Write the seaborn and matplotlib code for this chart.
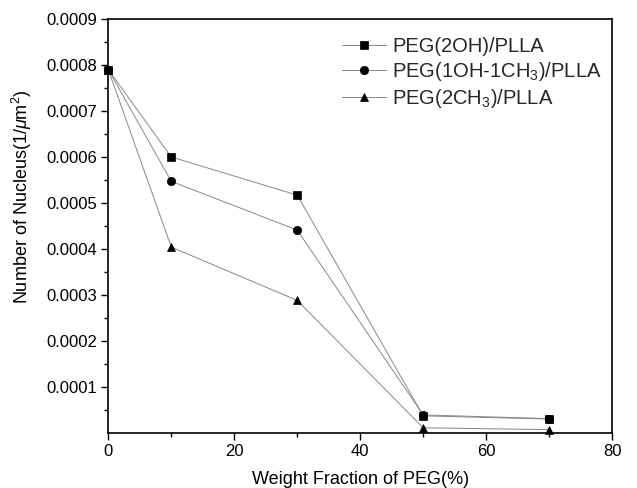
import matplotlib
matplotlib.use("Agg")
import matplotlib.pyplot as plt
import seaborn as sns
import pandas as pd
from matplotlib.ticker import MultipleLocator, FixedLocator, FuncFormatter

weight_fraction = [0, 10, 30, 50, 70]
peg_2oh = [0.00079, 0.000600, 0.000517, 0.000037, 0.000030]
peg_1oh_1ch3 = [0.00079, 0.000547, 0.000441, 0.000039, 0.000031]
peg_2ch3 = [0.00079, 0.000404, 0.000288, 0.000011, 0.000007]
series_names = ["PEG(2OH)/PLLA", "PEG(1OH-1CH$_3$)/PLLA", "PEG(2CH$_3$)/PLLA"]
markers = ["s", "o", "^"]
marker_sizes = [5.2, 6.0, 6.2]

sns.set_theme(style="white")
plt.rcParams["font.family"] = ["Liberation Sans", "DejaVu Sans"]
plt.rcParams["mathtext.fontset"] = "custom"
plt.rcParams["mathtext.rm"] = "Liberation Sans"
plt.rcParams["mathtext.it"] = "Liberation Sans:italic"

fig = plt.figure(figsize=(6.37, 4.88), dpi=100)
ax = fig.add_axes([0.17, 0.113, 0.791, 0.848])

for name, vals, m, ms in zip(series_names, [peg_2oh, peg_1oh_1ch3, peg_2ch3], markers, marker_sizes):
    df = pd.DataFrame({"x": weight_fraction, "y": vals})
    sns.lineplot(data=df, x="x", y="y", ax=ax, color="#888888", linewidth=0.7,
                 marker=m, markersize=ms,
                 markerfacecolor="black", markeredgecolor="black",
                 markeredgewidth=0.5, label=name, clip_on=False)

ax.set_xlim(0, 80)
ax.set_ylim(0, 0.0009)
ax.xaxis.set_major_locator(MultipleLocator(20))
ax.xaxis.set_minor_locator(MultipleLocator(10))
ax.yaxis.set_major_locator(FixedLocator([i * 0.0001 for i in range(1, 10)]))
ax.yaxis.set_minor_locator(FixedLocator([0.00005 + i * 0.0001 for i in range(9)]))
ax.yaxis.set_major_formatter(FuncFormatter(lambda v, p: f"{v:.4f}"))
ax.xaxis.set_major_formatter(FuncFormatter(lambda v, p: f"{v:.0f}"))

ax.tick_params(axis="both", which="major", direction="out", length=5, width=1,
               labelsize=12, color="black", labelcolor="black", pad=3,
               bottom=True, left=True, top=False, right=False)
ax.tick_params(axis="both", which="minor", direction="out", length=3, width=1,
               color="black", bottom=True, left=True, top=False, right=False)
for s in ax.spines.values():
    s.set_color("black")
    s.set_linewidth(1.2)

ax.set_xlabel("Weight Fraction of PEG(%)", fontsize=13, color="black", labelpad=9)
ax.set_ylabel("Number of Nucleus(1/$\\mu$m$^2$)", fontsize=13, color="black")
ax.yaxis.set_label_coords(-0.148, 0.57)

leg = ax.legend(frameon=False, loc="upper left", bbox_to_anchor=(0.44, 0.985),
                fontsize=14.5, handlelength=2.2, handletextpad=0.3, labelspacing=0.2,
                borderaxespad=0.2)

fig.savefig("out.png", dpi=100)
